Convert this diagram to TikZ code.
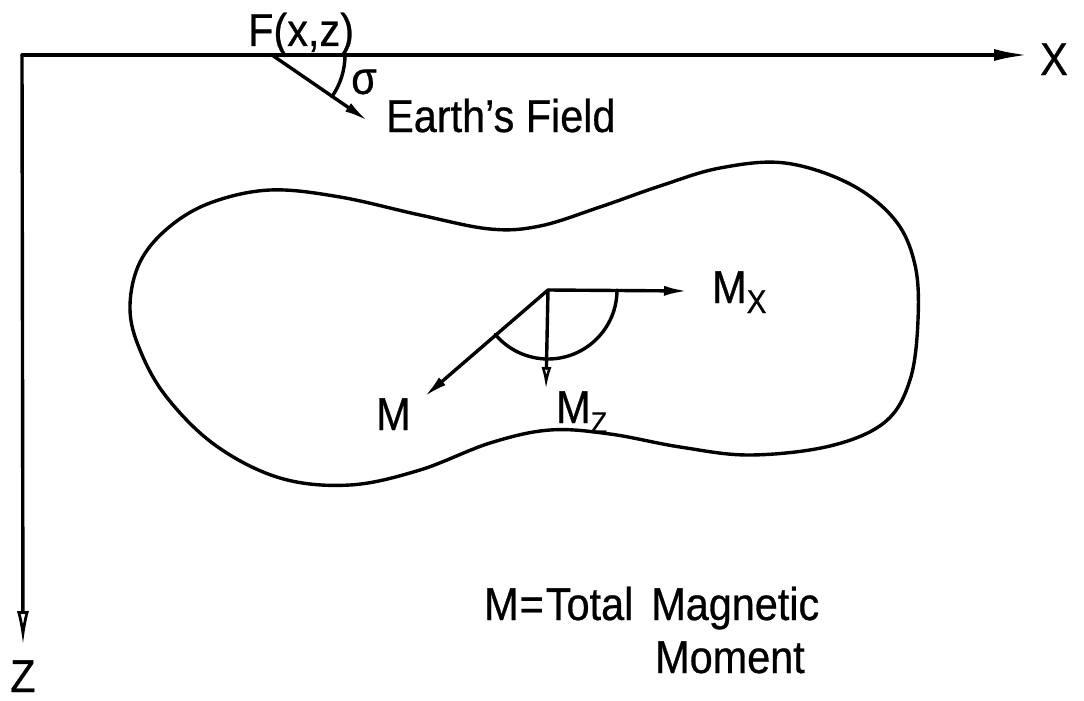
\documentclass[tikz,border=0pt]{standalone}
\usepackage{fontspec}
\setmainfont[FakeStretch=0.9,FakeBold=0.6]{Liberation Sans}
\usetikzlibrary{arrows.meta}
\begin{document}
\begin{tikzpicture}[x=1pt,y=-1pt,
  ln/.style={line width=3.4pt, line cap=round, line join=round},
  lbl/.style={inner sep=0pt, anchor=base west, font=\fontsize{46}{50}\selectfont},
  bigtip/.style={-{Latex[length=34pt,width=12pt]}},
  bigopen/.style={-{Latex[open,length=34pt,width=12pt,line width=2.8pt]}},
  smtip/.style={-{Latex[length=24pt,width=10pt]}},
  smopen/.style={-{Latex[open,length=22pt,width=10pt,line width=2.5pt]}}]
\useasboundingbox (0,0) rectangle (1084,701);
% axes
\coordinate (O) at (22,55);
\coordinate (Xend) at (1028,55);
\coordinate (Zend) at (23,645);
\draw[ln,bigtip] (O) -- (Xend);
\draw[ln,bigopen] (O) -- (Zend);
\node[lbl] (xl) at (1040,75) {X};
\node[lbl] (zl) at (10,692) {Z};
% Earth's field
\coordinate (F) at (272,55);
\coordinate (Fend) at (368,121);
\draw[ln,smtip] (F) -- (Fend);
\draw[ln] (F) ++(73,0) arc[start angle=0,end angle=35,radius=73];
\node[lbl] (fl) at (248,46) {F(x,z)};
\node[inner sep=0pt, font=\fontsize{46}{50}\selectfont] (sig) at (364,82) {σ};
\node[lbl] (ef) at (386,132) {Earth’s Field};
% body
\draw[ln] plot[smooth cycle, tension=0.6] coordinates {
 (130,305) (140,262) (168,228) (210,203) (270,190) (340,197) (420,215)
 (490,229) (540,226) (600,207) (660,186) (720,168) (785,163) (850,184)
 (895,220) (915,265) (918,320) (910,380) (885,422) (830,446) (750,455)
 (680,447) (610,434) (550,430) (490,443) (420,470) (350,485) (280,478)
 (215,445) (165,395) (138,345)};
% moment vectors
\coordinate (C) at (548,290);
\coordinate (Mx) at (688,291);
\coordinate (Mz) at (546,389);
\coordinate (Mv) at (424,397);
\draw[ln,smtip] (C) -- (Mx);
\draw[ln,smopen] (C) -- (Mz);
\draw[ln,smtip] (C) -- (Mv);
\draw[ln] (C) ++(69,0) arc[start angle=0,end angle=140,radius=69];
\node[lbl] (mxl) at (712,303) {M\raisebox{-10pt}{\fontsize{33}{33}\selectfont X}};
\node[lbl] (mzl) at (556,423) {M\raisebox{-10pt}{\fontsize{30}{30}\selectfont Z}};
\node[lbl] (ml) at (376,430) {M};
% legend
\node[lbl] (leg1) at (484,620) {M\kern1pt=\kern2pt Total\hspace{18pt}Magnetic};
\node[lbl] (leg2) at (655,673) {Moment};
\end{tikzpicture}
\end{document}
